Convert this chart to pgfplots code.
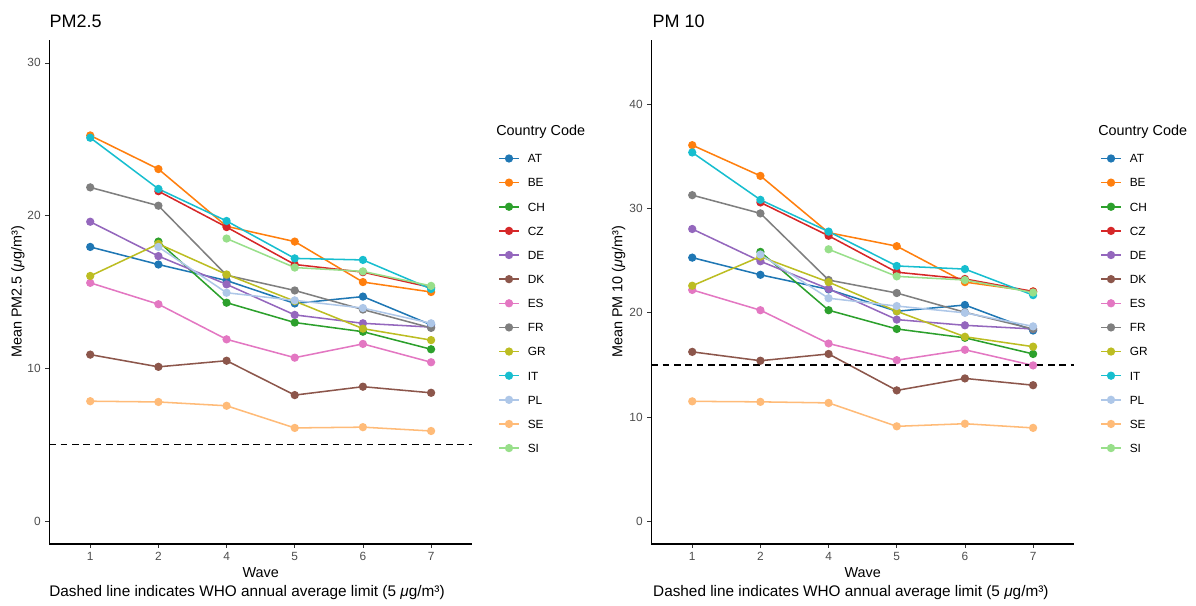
\documentclass[border=0pt]{standalone}
\usepackage{pgfplots}
\pgfplotsset{compat=1.18}
\usepackage{fontspec}
\setmainfont{Liberation Sans}
\definecolor{cAT}{HTML}{1F77B4}
\definecolor{cBE}{HTML}{FF7F0E}
\definecolor{cCH}{HTML}{2CA02C}
\definecolor{cCZ}{HTML}{D62728}
\definecolor{cDE}{HTML}{9467BD}
\definecolor{cDK}{HTML}{8C564B}
\definecolor{cES}{HTML}{E377C2}
\definecolor{cFR}{HTML}{7F7F7F}
\definecolor{cGR}{HTML}{BCBD22}
\definecolor{cIT}{HTML}{17BECF}
\definecolor{cPL}{HTML}{AEC7E8}
\definecolor{cSE}{HTML}{FFBB78}
\definecolor{cSI}{HTML}{98DF8A}
\definecolor{tickgrey}{HTML}{4D4D4D}
\newcommand\tickfont{\fontsize{8.9}{10}\selectfont}
\newcommand\labfont{\fontsize{10.8}{13}\selectfont}
\newcommand\titfont{\fontsize{13.5}{16}\selectfont}
\newcommand\capfont{\fontsize{11.5}{13}\selectfont}
\pgfplotsset{
  panel/.style={
    anchor=south west, scale only axis, width=317pt, height=378pt,
    xmin=0.4, xmax=6.6,
    xtick={1,2,3,4,5,6}, xticklabels={1,2,4,5,6,7},
    /pgf/number format/assume math mode=true,
    axis x line*=bottom, axis y line*=left,
    axis line style={-, black, line width=0.8pt},
    tick align=outside, major tick length=3pt,
    tick style={color=black!80, line width=0.6pt},
    ticklabel style={font=\tickfont, text=tickgrey},
    minor tick num=0,
    legend cell align=left,
    legend style={draw=none, fill=none, inner sep=0pt, anchor=west,
      at={(1.0615,0.4776)}, font=\tickfont, row sep=11.6pt, column sep=6pt,
      nodes={inner sep=0pt, text height=6.5pt, text depth=0pt}},
    legend image code/.code={\draw[mark repeat=2, mark phase=2] plot coordinates {(0pt,0pt) (7.5pt,0pt) (15pt,0pt)};},
    every axis plot/.append style={line width=1.15pt, mark=*, mark size=2.5pt, mark options={solid}},
  }
}
\begin{document}
\begin{tikzpicture}
\path[use as bounding box] (0,0) rectangle (897pt,454.5pt);
% ---------------- PM2.5 ----------------
\begin{axis}[panel, at={(37pt,46.5pt)}, ymin=-1.5, ymax=31.5, ytick={0,10,20,30}]
\addplot[cAT] coordinates {(1,17.95) (2,16.8) (3,15.75) (4,14.25) (5,14.7) (6,12.85)}; \addlegendentry{AT}
\addplot[cBE] coordinates {(1,25.25) (2,23.05) (3,19.3) (4,18.3) (5,15.65) (6,15.0)}; \addlegendentry{BE}
\addplot[cCH] coordinates {(2,18.3) (3,14.3) (4,13.0) (5,12.4) (6,11.25)}; \addlegendentry{CH}
\addplot[cCZ] coordinates {(2,21.6) (3,19.25) (4,16.8) (5,16.3) (6,15.3)}; \addlegendentry{CZ}
\addplot[cDE] coordinates {(1,19.6) (2,17.35) (3,15.5) (4,13.5) (5,12.95) (6,12.7)}; \addlegendentry{DE}
\addplot[cDK] coordinates {(1,10.9) (2,10.1) (3,10.5) (4,8.25) (5,8.8) (6,8.4)}; \addlegendentry{DK}
\addplot[cES] coordinates {(1,15.6) (2,14.2) (3,11.9) (4,10.7) (5,11.6) (6,10.4)}; \addlegendentry{ES}
\addplot[cFR] coordinates {(1,21.85) (2,20.65) (3,16.1) (4,15.1) (5,13.85) (6,12.65)}; \addlegendentry{FR}
\addplot[cGR] coordinates {(1,16.05) (2,18.15) (3,16.15) (4,14.4) (5,12.6) (6,11.85)}; \addlegendentry{GR}
\addplot[cIT] coordinates {(1,25.1) (2,21.75) (3,19.65) (4,17.2) (5,17.1) (6,15.2)}; \addlegendentry{IT}
\addplot[cPL] coordinates {(2,17.95) (3,14.95) (4,14.45) (5,13.95) (6,12.95)}; \addlegendentry{PL}
\addplot[cSE] coordinates {(1,7.85) (2,7.8) (3,7.55) (4,6.1) (5,6.15) (6,5.9)}; \addlegendentry{SE}
\addplot[cSI] coordinates {(3,18.5) (4,16.6) (5,16.35) (6,15.4)}; \addlegendentry{SI}
\addplot[black, line width=1.1pt, dash pattern=on 5pt off 3.5pt, mark=none, forget plot] coordinates {(0.4,5) (6.6,5)};
\end{axis}
% ---------------- PM 10 ----------------
\begin{axis}[panel, at={(488.5pt,46.5pt)}, ymin=-2.2, ymax=46.2, ytick={0,10,20,30,40}]
\addplot[cAT] coordinates {(1,25.3) (2,23.65) (3,22.25) (4,20.15) (5,20.75) (6,18.3)}; \addlegendentry{AT}
\addplot[cBE] coordinates {(1,36.1) (2,33.15) (3,27.7) (4,26.4) (5,22.95) (6,22.05)}; \addlegendentry{BE}
\addplot[cCH] coordinates {(2,25.85) (3,20.25) (4,18.45) (5,17.6) (6,16.05)}; \addlegendentry{CH}
\addplot[cCZ] coordinates {(2,30.6) (3,27.4) (4,23.9) (5,23.25) (6,22.05)}; \addlegendentry{CZ}
\addplot[cDE] coordinates {(1,28.05) (2,24.95) (3,22.3) (4,19.35) (5,18.8) (6,18.45)}; \addlegendentry{DE}
\addplot[cDK] coordinates {(1,16.25) (2,15.4) (3,16.05) (4,12.55) (5,13.7) (6,13.05)}; \addlegendentry{DK}
\addplot[cES] coordinates {(1,22.2) (2,20.25) (3,17.05) (4,15.45) (5,16.45) (6,14.95)}; \addlegendentry{ES}
\addplot[cFR] coordinates {(1,31.3) (2,29.55) (3,23.15) (4,21.9) (5,20.05) (6,18.45)}; \addlegendentry{FR}
\addplot[cGR] coordinates {(1,22.6) (2,25.4) (3,22.95) (4,20.15) (5,17.7) (6,16.75)}; \addlegendentry{GR}
\addplot[cIT] coordinates {(1,35.4) (2,30.85) (3,27.8) (4,24.5) (5,24.2) (6,21.7)}; \addlegendentry{IT}
\addplot[cPL] coordinates {(2,25.6) (3,21.4) (4,20.65) (5,20.0) (6,18.7)}; \addlegendentry{PL}
\addplot[cSE] coordinates {(1,11.5) (2,11.45) (3,11.35) (4,9.1) (5,9.35) (6,8.95)}; \addlegendentry{SE}
\addplot[cSI] coordinates {(3,26.1) (4,23.5) (5,23.15) (6,21.95)}; \addlegendentry{SI}
\addplot[black, line width=1.1pt, dash pattern=on 5pt off 3.5pt, mark=none, forget plot] coordinates {(0.4,15) (6.6,15)};
\end{axis}
% ---------------- texts ----------------
\node[anchor=west, inner sep=0pt, font=\titfont] at (37pt,438.2pt) {PM2.5};
\node[anchor=west, inner sep=0pt, font=\titfont] at (489.2pt,438.2pt) {PM 10};
\node[inner sep=0pt, font=\labfont] at (195.5pt,25pt) {Wave};
\node[inner sep=0pt, font=\labfont] at (647pt,25pt) {Wave};
\node[anchor=west, inner sep=0pt, font=\capfont] at (36.8pt,10pt) {Dashed line indicates WHO annual average limit (5 \textit{μ}g/m³)};
\node[anchor=west, inner sep=0pt, font=\capfont] at (489.7pt,10pt) {Dashed line indicates WHO annual average limit (5 \textit{μ}g/m³)};
\node[rotate=90, inner sep=0pt, font=\labfont] at (13.5pt,235.5pt) {Mean PM2.5 (\textit{μ}g/m³)};
\node[rotate=90, inner sep=0pt, font=\labfont] at (464pt,235.5pt) {Mean PM 10 (\textit{μ}g/m³)};
\node[anchor=west, inner sep=0pt, font=\labfont] at (372pt,355.5pt) {Country Code};
\node[anchor=west, inner sep=0pt, font=\labfont] at (823.5pt,355.5pt) {Country Code};
\end{tikzpicture}
\end{document}
